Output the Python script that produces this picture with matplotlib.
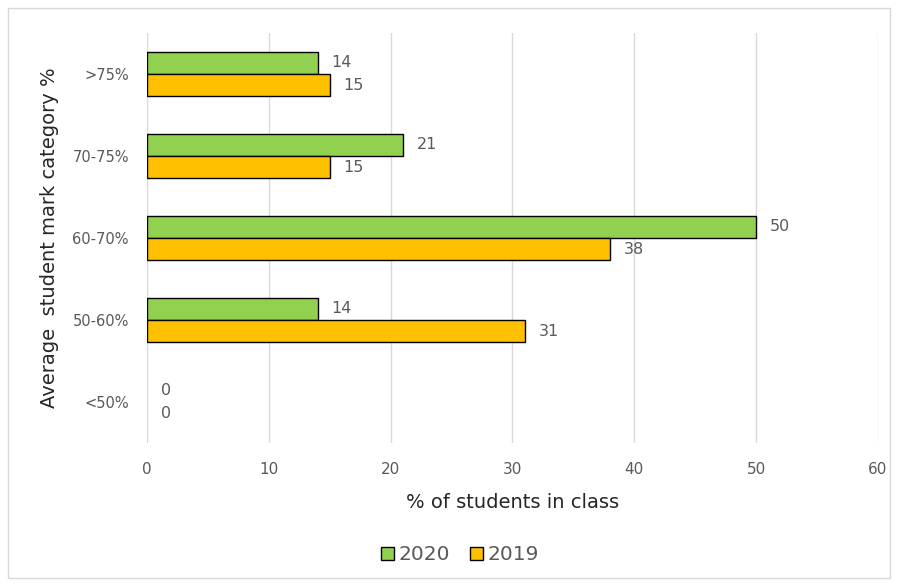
import matplotlib.pyplot as plt
import matplotlib.patches as mpatches
import numpy as np

categories = ["<50%", "50-60%", "60-70%", "70-75%", ">75%"]
values_2020 = [0, 14, 50, 21, 14]
values_2019 = [0, 31, 38, 15, 15]

GREEN = "#92D050"
ORANGE = "#FFC000"
TEXT = "#595959"

plt.rcParams["font.family"] = ["DejaVu Sans"]

fig = plt.figure(figsize=(8.98, 5.86), dpi=100)
ax = fig.add_axes([0.1637, 0.244, 0.814, 0.6997])

y = np.arange(len(categories))
h = 0.27
bars20 = ax.barh(y + h / 2, values_2020, height=h, color=GREEN, edgecolor="black",
                 linewidth=1.0, label="2020", zorder=3)
bars19 = ax.barh(y - h / 2, values_2019, height=h, color=ORANGE, edgecolor="black",
                 linewidth=1.0, label="2019", zorder=3)

# no outline for empty bars
for bars in (bars20, bars19):
    for b in bars:
        if b.get_width() == 0:
            b.set_linewidth(0)
    ax.bar_label(bars, padding=10, fontsize=11.5, color=TEXT)

ax.set_xlim(0, 60)
ax.set_ylim(-0.5, 4.5)
ax.set_xticks(range(0, 61, 10))
ax.set_yticks(y)
ax.set_yticklabels(categories)
ax.tick_params(axis="both", length=0, labelcolor=TEXT)
ax.tick_params(axis="x", pad=14, labelsize=11)
ax.tick_params(axis="y", pad=13, labelsize=10.5)
for s in ax.spines.values():
    s.set_visible(False)
ax.grid(axis="x", color="#D9D9D9", linewidth=1.0, zorder=0)
ax.set_axisbelow(True)

ax.set_xlabel("% of students in class", fontsize=14, color="#262626", labelpad=11)
ax.set_ylabel("Average  student mark category %", fontsize=14, color="#262626", labelpad=10)

handles = [mpatches.Patch(facecolor=GREEN, edgecolor="black", label="2020"),
           mpatches.Patch(facecolor=ORANGE, edgecolor="black", label="2019")]
fig.legend(handles=handles, loc="center", bbox_to_anchor=(0.512, 0.053), ncol=2, frameon=False,
           fontsize=14.5, labelcolor=TEXT, handlelength=0.65, handleheight=0.65,
           handletextpad=0.2, columnspacing=1.0)

fig.add_artist(mpatches.Rectangle((0.009, 0.014), 0.982, 0.972, transform=fig.transFigure,
                                  fill=False, edgecolor="#D9D9D9", linewidth=1.0))

fig.savefig("out.png", dpi=100)
